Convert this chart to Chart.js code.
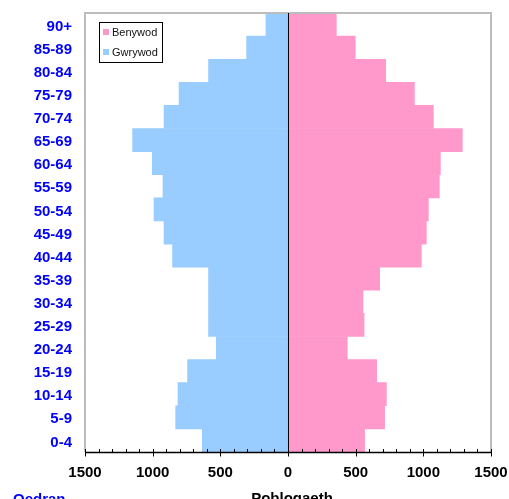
<!DOCTYPE html>
<html>
<head>
<meta charset="utf-8">
<script src="https://cdn.jsdelivr.net/npm/chart.js@4/dist/chart.umd.min.js"></script>
<style>
html,body{margin:0;padding:0;background:#fff;}
#wrap{width:509px;height:499px;position:relative;}
</style>
</head>
<body>
<div id="wrap"><canvas id="c" width="509" height="499"></canvas></div>
<script>
const ageGroups = ['90+','85-89','80-84','75-79','70-74','65-69','60-64','55-59','50-54','45-49','40-44','35-39','30-34','25-29','20-24','15-19','10-14','5-9','0-4'];
const female = [357,497,722,934,1074,1288,1126,1118,1037,1022,985,677,554,562,438,655,727,714,566];
const male = [163,306,587,805,916,1148,1003,924,990,916,853,587,587,587,530,742,813,830,633];
const xTickValues = [-1500,-1000,-500,0,500,1000,1500];
const seriesNames = ['Benywod','Gwrywod'];
const axisTitleX = 'Poblogaeth';
const axisTitleY = 'Oedran';

const FONT = '"Liberation Sans", Arial, sans-serif';
const PINK = '#FF99CC';
const BLUE = '#99CCFF';

const decor = {
  id: 'decor',
  afterDatasetsDraw(chart) {
    const ctx = chart.ctx, a = chart.chartArea, xs = chart.scales.x;
    ctx.save();
    // plot border (left, top, right)
    ctx.strokeStyle = '#BDBDBD';
    ctx.lineWidth = 2;
    ctx.beginPath();
    ctx.moveTo(a.left, a.bottom);
    ctx.lineTo(a.left, a.top);
    ctx.lineTo(a.right, a.top);
    ctx.lineTo(a.right, a.bottom);
    ctx.stroke();
    // zero line
    const x0 = Math.round(xs.getPixelForValue(0)) + 0.5;
    ctx.strokeStyle = '#000';
    ctx.lineWidth = 1;
    ctx.beginPath();
    ctx.moveTo(x0, a.top);
    ctx.lineTo(x0, a.bottom);
    ctx.stroke();
    // axis line
    const yb = Math.round(a.bottom) + 0.5;
    ctx.lineWidth = 1.5;
    ctx.beginPath();
    ctx.moveTo(a.left, yb);
    ctx.lineTo(a.right, yb);
    ctx.stroke();
    // tick marks
    ctx.lineWidth = 1;
    for (let v = xs.min; v <= xs.max; v += 100) {
      const px = Math.round(xs.getPixelForValue(v)) + 0.5;
      const major = v % 500 === 0;
      ctx.beginPath();
      ctx.moveTo(px, yb - 3.5);
      ctx.lineTo(px, yb + (major ? 4 : 0));
      ctx.stroke();
    }
    // legend
    const lx = 99.5, ly = 22.5, lw = 63, lh = 40;
    ctx.fillStyle = '#fff';
    ctx.fillRect(lx, ly, lw, lh);
    ctx.strokeStyle = '#000';
    ctx.lineWidth = 1;
    ctx.strokeRect(lx, ly, lw, lh);
    ctx.font = '11px ' + FONT;
    ctx.textBaseline = 'middle';
    ctx.textAlign = 'left';
    chart.data.datasets.forEach((ds, i) => {
      const cy = 32 + i * 20;
      ctx.fillStyle = ds.backgroundColor;
      ctx.fillRect(103, cy - 3, 6, 6);
      ctx.fillStyle = '#111';
      ctx.fillText(ds.label, 112, cy + 0.5);
    });
    // axis titles
    ctx.font = 'bold 15px ' + FONT;
    ctx.textBaseline = 'alphabetic';
    ctx.fillStyle = '#0000FF';
    ctx.textAlign = 'left';
    ctx.fillText(axisTitleY, 13, 504);
    ctx.fillStyle = '#000';
    ctx.textAlign = 'center';
    ctx.fillText(axisTitleX, 292, 503);
    ctx.restore();
  }
};

new Chart(document.getElementById('c'), {
  type: 'bar',
  data: {
    labels: ageGroups,
    datasets: [
      { label: seriesNames[0], data: female, backgroundColor: PINK, borderWidth: 0, barPercentage: 1, categoryPercentage: 1 },
      { label: seriesNames[1], data: male.map(v => -v), backgroundColor: BLUE, borderWidth: 0, barPercentage: 1, categoryPercentage: 1 }
    ]
  },
  options: {
    indexAxis: 'y',
    responsive: false,
    animation: false,
    devicePixelRatio: 1,
    layout: { padding: { top: 13, right: 18, left: 0, bottom: 0 } },
    plugins: { legend: { display: false }, tooltip: { enabled: false }, title: { display: false } },
    scales: {
      x: {
        stacked: true,
        min: -1500, max: 1500,
        afterBuildTicks(scale) { scale.ticks = xTickValues.map(v => ({ value: v })); },
        afterFit(scale) { scale.height = 47; scale.paddingLeft = 0; scale.paddingRight = 0; },
        grid: { display: false },
        border: { display: false },
        ticks: {
          autoSkip: false,
          maxRotation: 0,
          padding: 4,
          color: '#000',
          font: { family: FONT, size: 15, weight: 'bold' },
          callback: v => String(Math.abs(v))
        }
      },
      y: {
        stacked: true,
        afterFit(scale) { scale.width = 85; scale.paddingTop = 0; scale.paddingBottom = 0; },
        grid: { display: false },
        border: { display: false },
        ticks: {
          autoSkip: false,
          padding: 5,
          labelOffset: 2,
          color: '#0000FF',
          font: { family: FONT, size: 15, weight: 'bold' }
        }
      }
    }
  },
  plugins: [decor]
});
</script>
</body>
</html>
